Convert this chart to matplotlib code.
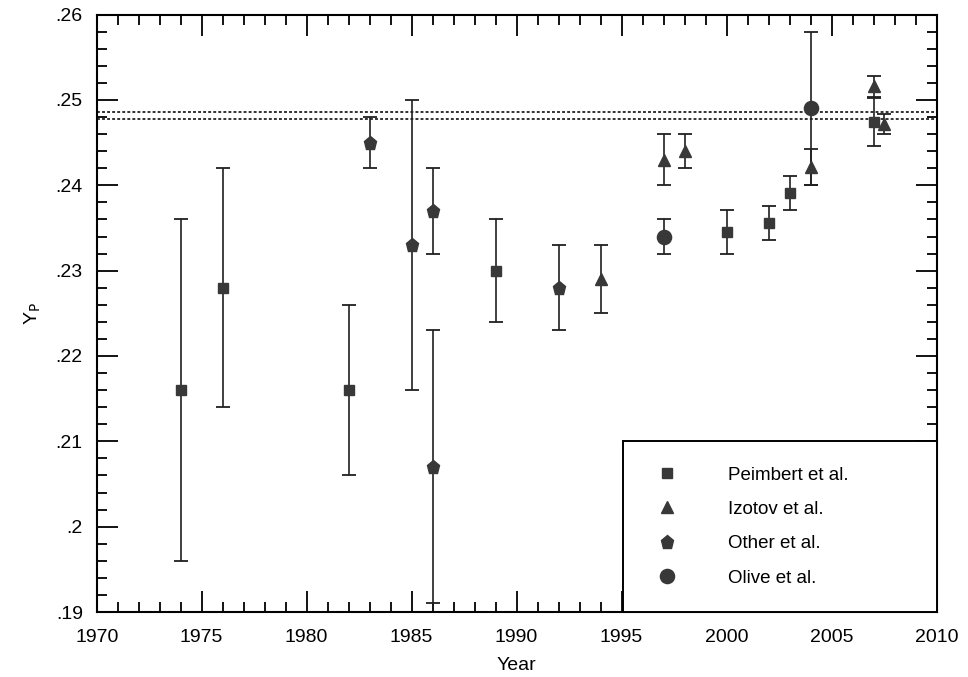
import matplotlib
matplotlib.use("Agg")
import matplotlib.pyplot as plt
from matplotlib.lines import Line2D
from matplotlib.ticker import MultipleLocator, FixedLocator, FixedFormatter

plt.rcParams['font.family'] = ['Liberation Sans', 'DejaVu Sans']

# ---- data ----
peimbert_year = [1974, 1976, 1982, 1989, 2000, 2002, 2003, 2007]
peimbert_yp   = [0.2160, 0.2280, 0.2160, 0.2300, 0.2345, 0.2356, 0.2391, 0.2474]
peimbert_err  = [0.0200, 0.0140, 0.0100, 0.0060, 0.0026, 0.0020, 0.0020, 0.0028]

izotov_year = [1994, 1997, 1998, 2004, 2007, 2007.5]
izotov_yp   = [0.2290, 0.2430, 0.2440, 0.2421, 0.2516, 0.2472]
izotov_err  = [0.0040, 0.0030, 0.0020, 0.0021, 0.0012, 0.0012]

other_year = [1983, 1985, 1986, 1986, 1992]
other_yp   = [0.2450, 0.2330, 0.2370, 0.2070, 0.2280]
other_err  = [0.0030, 0.0170, 0.0050, 0.0160, 0.0050]

olive_year = [1997, 2004]
olive_yp   = [0.2340, 0.2490]
olive_err  = [0.0020, 0.0090]

band_years = [1970, 2010]
band_upper = [0.2486, 0.2486]
band_lower = [0.2478, 0.2478]

series_labels = ['Peimbert et al.', 'Izotov et al.', 'Other et al.', 'Olive et al.']
ytick_values = [0.19, 0.20, 0.21, 0.22, 0.23, 0.24, 0.25, 0.26]
ytick_labels = ['.19', '.2', '.21', '.22', '.23', '.24', '.25', '.26']
xtick_values = [1970, 1975, 1980, 1985, 1990, 1995, 2000, 2005, 2010]

# ---- figure ----
fig = plt.figure(figsize=(9.68, 6.77), dpi=100)
ax = fig.add_axes([0.0999, 0.0960, 0.8676, 0.8824])

mcol = '#383838'
ecol = '#202020'
specs = [
    (peimbert_year, peimbert_yp, peimbert_err, 's', 7.8),
    (izotov_year, izotov_yp, izotov_err, '^', 8.8),
    (other_year, other_yp, other_err, 'p', 9.8),
    (olive_year, olive_yp, olive_err, 'o', 10.2),
]
for xs, ys, es, m, ms in specs:
    ax.errorbar(xs, ys, yerr=es, fmt=m, ms=ms, mfc=mcol, mec=mcol,
                ecolor=ecol, elinewidth=1.2, capsize=5, capthick=1.3, zorder=3)

ax.plot(band_years, band_upper, color='#222222', lw=1.3, ls=(0, (1.6, 1.2)), zorder=2)
ax.plot(band_years, band_lower, color='#222222', lw=1.3, ls=(0, (1.6, 1.2)), zorder=2)

ax.set_xlim(1970, 2010)
ax.set_ylim(0.19, 0.26)
ax.xaxis.set_major_locator(FixedLocator(xtick_values))
ax.xaxis.set_minor_locator(MultipleLocator(1))
ax.yaxis.set_major_locator(FixedLocator(ytick_values))
ax.yaxis.set_major_formatter(FixedFormatter(ytick_labels))
ax.yaxis.set_minor_locator(MultipleLocator(0.002))

ax.tick_params(which='both', direction='in', top=True, right=True, width=1.3, colors='black')
ax.tick_params(which='major', length=15, labelsize=14)
ax.tick_params(axis='x', which='major', pad=12)
ax.tick_params(axis='y', which='major', pad=10)
ax.tick_params(which='minor', length=7.5)
for s in ax.spines.values():
    s.set_linewidth(1.5)

ax.set_xlabel('Year', fontsize=14, labelpad=8)
ax.set_ylabel(r'Y$_\mathrm{P}$', fontsize=14, labelpad=9)

handles = [Line2D([], [], ls='none', marker=m, ms=ms, mfc=mcol, mec=mcol)
           for (_, _, _, m, ms) in specs]
leg = ax.legend(handles, series_labels, loc='lower left',
                bbox_to_anchor=(0.6267, 0.0, 0.3733, 0.29), mode='expand',
                borderaxespad=0, frameon=True, fancybox=False, edgecolor='black',
                framealpha=1, fontsize=13.5, borderpad=1.35, labelspacing=0.92,
                handlelength=2.0, handletextpad=2.25)
leg.get_frame().set_linewidth(1.4)

fig.savefig('out.png', dpi=100)
